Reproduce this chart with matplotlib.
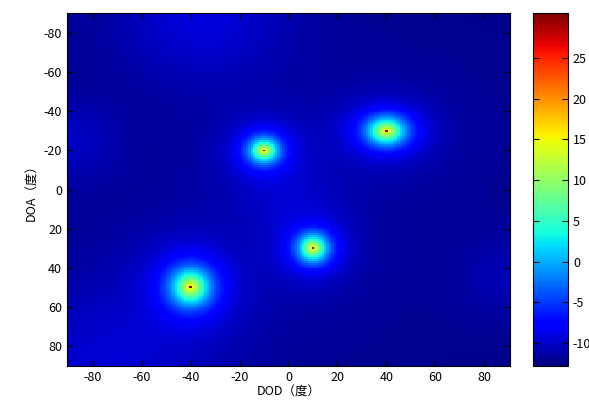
import numpy as np
import matplotlib
matplotlib.use('Agg')
import matplotlib.pyplot as plt

plt.rcParams['font.family'] = ['Noto Sans CJK SC', 'DejaVu Sans']
plt.rcParams['axes.unicode_minus'] = False

# angle grid (degrees)
dod = np.arange(-90, 91)
doa = np.arange(-90, 91)

# source positions
peak_dod = [-10, 40, 10, -40]
peak_doa = [-20, -30, 30, 50]
peak_db = [29.5, 29.0, 29.5, 30.5]
peak_wx = [1.27, 1.63, 1.27, 1.63]
peak_wy = [1.33, 1.44, 1.44, 1.94]

# faint background lumps of the spectrum floor
bg_level = -12.3
bump_dod = [-35, -90, -75, 90, 0]
bump_doa = [-90, -25, 90, 45, 5]
bump_db = [3.0, 2.0, 2.5, 1.5, 1.5]
bump_w = [25, 15, 30, 15, 15]

xticks = [-80, -60, -40, -20, 0, 20, 40, 60, 80]
yticks = [-80, -60, -40, -20, 0, 20, 40, 60, 80]
cticks = [-10, -5, 0, 5, 10, 15, 20, 25]
clim = (-12.8, 30.5)

X, Y = np.meshgrid(dod, doa)
floor = np.full(X.shape, bg_level, dtype=float)
for bx, by, a, w in zip(bump_dod, bump_doa, bump_db, bump_w):
    floor += a * np.exp(-((X - bx) ** 2 + (Y - by) ** 2) / (2 * w ** 2))
P = 10 ** (floor / 10)
for px, py, h, wx, wy in zip(peak_dod, peak_doa, peak_db, peak_wx, peak_wy):
    r2 = ((X - px) / wx) ** 2 + ((Y - py) / wy) ** 2
    # broad halo + one sharp centre cell
    P += 22.0 / (1 + r2 / 4.5) ** 2
    c = 0.0032
    P += 10 ** (h / 10) * c / (c + r2)
Z = 10 * np.log10(P)

fig = plt.figure(figsize=(5.89, 4.0), dpi=100)
ax = fig.add_axes([0.1138, 0.085, 0.752, 0.8825])
cax = fig.add_axes([0.905, 0.085, 0.0594, 0.8825])

im = ax.imshow(Z, extent=[-90.5, 90.5, 90.5, -90.5], cmap='jet', aspect='auto',
               interpolation='nearest', vmin=clim[0], vmax=clim[1])
ax.set_xticks(xticks)
ax.set_yticks(yticks)
ax.tick_params(direction='in', top=True, right=True, labelsize=9, length=4, colors='black')
ax.set_xlabel('DOD（度）', fontsize=9, labelpad=1)
ax.set_ylabel('DOA（度）', fontsize=9, labelpad=4)

cb = fig.colorbar(im, cax=cax)
cb.set_ticks(cticks)
cax.tick_params(direction='in', left=True, right=True, labelsize=9, length=4)

fig.savefig('out.png', dpi=100)
